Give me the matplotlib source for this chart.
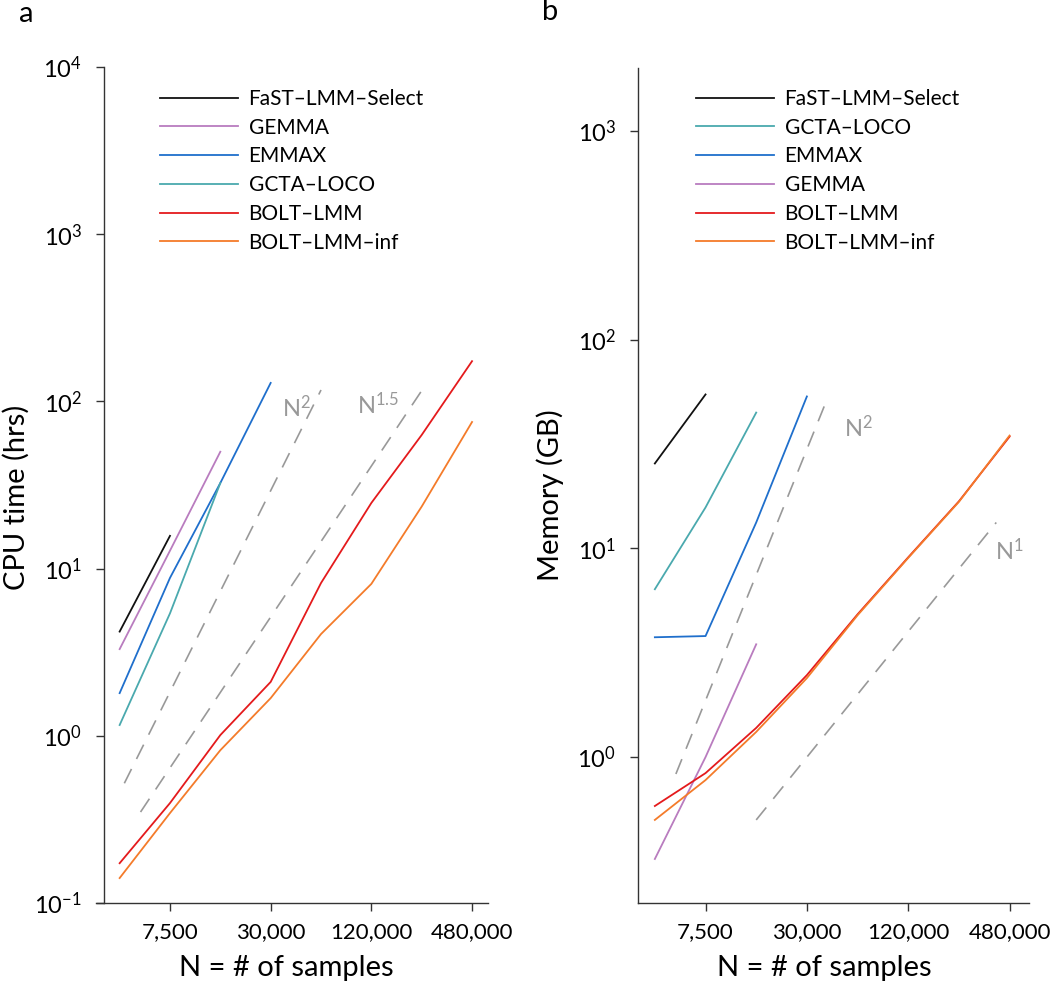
import matplotlib
matplotlib.use('Agg')
import matplotlib.pyplot as plt
import matplotlib.ticker as mticker

plt.rcParams['font.family'] = ['Lato', 'DejaVu Sans']
plt.rcParams['mathtext.fontset'] = 'custom'
plt.rcParams['mathtext.rm'] = 'Lato'
plt.rcParams['mathtext.it'] = 'Lato:italic'

# sample sizes
n = [3750, 7500, 15000, 30000, 60000, 120000, 240000, 480000]
xtick_vals = [7500, 30000, 120000, 480000]
xtick_labels = ['7,500', '30,000', '120,000', '480,000']

# panel a: CPU time (hrs)
cpu_fast = [4.2, 15.7]
cpu_gemma = [3.3, 12.8, 50]
cpu_emmax = [1.8, 8.8, 32.5, 129]
cpu_gcta = [1.16, 5.4, 32.5]
cpu_bolt = [0.173, 0.396, 1.01, 2.1, 8.2, 24.7, 63, 174]
cpu_inf = [0.141, 0.345, 0.82, 1.68, 4.06, 8.1, 23.5, 75.3]
cpu_n2_x, cpu_n2_y = [4000, 60000], [0.52, 117]
cpu_n15_x, cpu_n15_y = [5000, 240000], [0.35, 116]

# panel b: memory (GB)
mem_fast = [25.5, 54.6]
mem_gcta = [6.37, 15.7, 44.7]
mem_emmax = [3.75, 3.8, 13.3, 53.4]
mem_gemma = [0.325, 1.0, 3.47]
mem_bolt = [0.583, 0.838, 1.38, 2.47, 4.83, 9.06, 16.8, 34.3]
mem_inf = [0.50, 0.776, 1.32, 2.39, 4.78, 9.0, 16.7, 34.7]
mem_n2_x, mem_n2_y = [5000, 40000], [0.83, 53]
mem_n1_x, mem_n1_y = [15000, 400000], [0.5, 13.3]

c_fast = '#111111'
c_gemma = '#b97cbf'
c_emmax = '#1f6fcc'
c_gcta = '#4aa9ae'
c_bolt = '#e41a1c'
c_inf = '#f47b2a'
c_ref = '#999999'
c_axis = '#333333'

W, H = 1050, 984
fig = plt.figure(figsize=(W / 100, H / 100), dpi=100)


def px_rect(x0, y0, x1, y1):
    return (x0 / W, 1 - y1 / H, (x1 - x0) / W, (y1 - y0) / H)


def style_axes(ax, xlim, ylim, left_offset):
    ax.set_xscale('log')
    ax.set_yscale('log')
    ax.set_xlim(xlim)
    ax.set_ylim(ylim)
    for s in ['top', 'right']:
        ax.spines[s].set_visible(False)
    for s in ['left', 'bottom']:
        ax.spines[s].set_color(c_axis)
        ax.spines[s].set_linewidth(1.0)
    ax.spines['left'].set_position(('axes', left_offset))
    ax.set_xticks(xtick_vals)
    ax.set_xticklabels(xtick_labels)
    ax.xaxis.set_minor_locator(mticker.NullLocator())
    ax.yaxis.set_minor_locator(mticker.NullLocator())
    ax.yaxis.set_major_formatter(mticker.LogFormatterMathtext())
    ax.tick_params(axis='both', direction='out', length=5.8, width=1.0,
                   color=c_axis)
    ax.tick_params(axis='x', pad=8, labelsize=16)
    ax.tick_params(axis='y', pad=10, labelsize=17)
    ax.set_facecolor('none')


def ref_line(ax, xs, ys):
    ax.plot(xs, ys, color=c_ref, lw=1.2, dashes=(9.6, 6.7))


def add_legend(ax, x_px):
    ax.legend(loc='upper left', bbox_to_anchor=(x_px / W, 1 - 89 / H),
              bbox_transform=fig.transFigure, frameon=False, fontsize=15,
              handlelength=3.75, handletextpad=0.5, labelspacing=0.42,
              borderpad=0, borderaxespad=0)


# ---- panel a
ax1 = fig.add_axes(px_rect(96, 67, 488, 903))
style_axes(ax1, (2708, 598000), (0.1, 1e4), 8 / 392)
ax1.set_yticks([0.1, 1, 10, 100, 1000, 10000])
ref_line(ax1, cpu_n2_x, cpu_n2_y)
ref_line(ax1, cpu_n15_x, cpu_n15_y)
ax1.plot(n[:2], cpu_fast, color=c_fast, lw=1.3, label='FaST\u2013LMM\u2013Select')
ax1.plot(n[:3], cpu_gemma, color=c_gemma, lw=1.3, label='GEMMA')
ax1.plot(n[:4], cpu_emmax, color=c_emmax, lw=1.3, label='EMMAX')
ax1.plot(n[:3], cpu_gcta, color=c_gcta, lw=1.3, label='GCTA\u2013LOCO')
ax1.plot(n, cpu_bolt, color=c_bolt, lw=1.3, label='BOLT\u2013LMM')
ax1.plot(n, cpu_inf, color=c_inf, lw=1.3, label='BOLT\u2013LMM\u2013inf')
ax1.text(43000, 92, r'N$^{2}$', color=c_ref, fontsize=17, ha='center', va='center')
ax1.text(131000, 95, r'N$^{1.5}$', color=c_ref, fontsize=17, ha='center', va='center')
add_legend(ax1, 160)

# ---- panel b
ax2 = fig.add_axes(px_rect(638, 68, 1029, 903))
style_axes(ax2, (2978, 626000), (0.2, 2000), 0)
ax2.set_yticks([1, 10, 100, 1000])
ref_line(ax2, mem_n2_x, mem_n2_y)
ref_line(ax2, mem_n1_x, mem_n1_y)
ax2.plot(n[:2], mem_fast, color=c_fast, lw=1.3, label='FaST\u2013LMM\u2013Select')
ax2.plot(n[:3], mem_gcta, color=c_gcta, lw=1.3, label='GCTA\u2013LOCO')
ax2.plot(n[:4], mem_emmax, color=c_emmax, lw=1.3, label='EMMAX')
ax2.plot(n[:3], mem_gemma, color=c_gemma, lw=1.3, label='GEMMA')
ax2.plot(n, mem_bolt, color=c_bolt, lw=1.3, label='BOLT\u2013LMM')
ax2.plot(n, mem_inf, color=c_inf, lw=1.3, label='BOLT\u2013LMM\u2013inf')
ax2.text(60800, 37.9, r'N$^{2}$', color=c_ref, fontsize=17, ha='center', va='center')
ax2.text(480000, 9.8, r'N$^{1}$', color=c_ref, fontsize=17, ha='center', va='center')
add_legend(ax2, 696)

# axis titles and panel letters
fig.text(286 / W, 1 - 968 / H, 'N = # of samples', fontsize=21, ha='center', va='center')
fig.text(824 / W, 1 - 968 / H, 'N = # of samples', fontsize=21, ha='center', va='center')
fig.text(16 / W, 1 - 497 / H, 'CPU time (hrs)', fontsize=21, rotation=90, ha='center', va='center')
fig.text(550 / W, 1 - 495 / H, 'Memory (GB)', fontsize=21, rotation=90, ha='center', va='center')
fig.text(26 / W, 1 - 14 / H, 'a', fontsize=21, ha='center', va='center')
fig.text(550 / W, 1 - 12 / H, 'b', fontsize=21, ha='center', va='center')

fig.savefig('out.png', dpi=100)
